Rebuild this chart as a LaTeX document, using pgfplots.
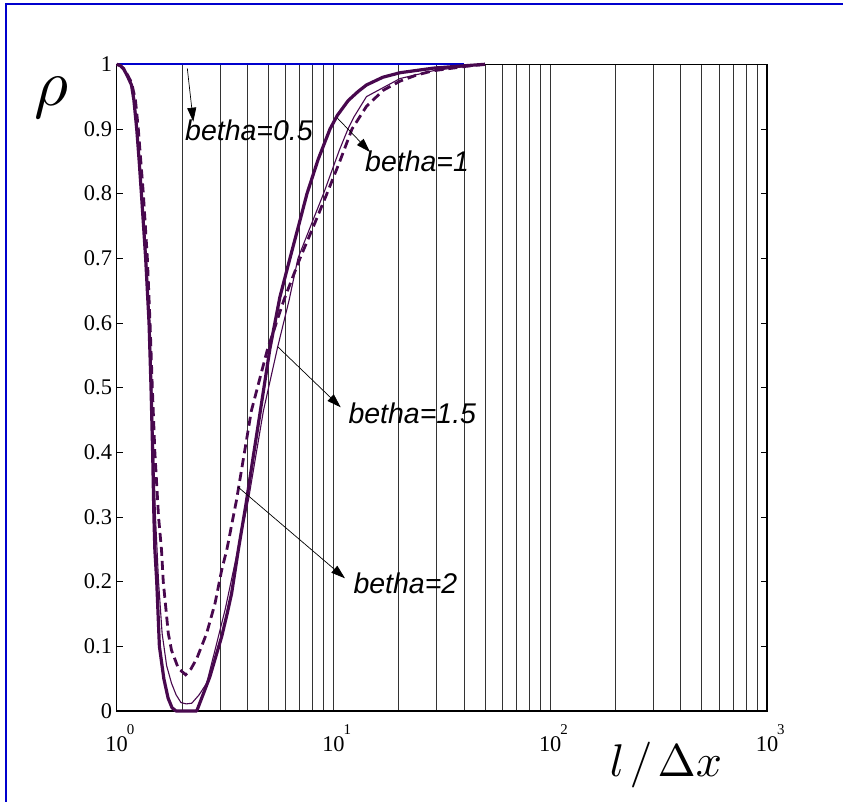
\documentclass[border=0pt]{standalone}
\usepackage{fontspec}
\setmainfont{Liberation Serif}
\setsansfont{Liberation Sans}
\newfontfamily\serifface{Liberation Serif}
\usepackage{pgfplots}
\pgfplotsset{compat=1.18}
\usetikzlibrary{arrows.meta}

\definecolor{curve}{RGB}{72,8,78}
\definecolor{frameblue}{RGB}{0,0,205}
% decade label in the 10^n style with a small raised exponent
\newcommand{\dec}[1]{10\rlap{\kern-1bp\raisebox{17bp}{\fontsize{15}{15}\selectfont #1}}}

\begin{document}
\begin{tikzpicture}
\useasboundingbox (0,0) rectangle (843bp,802bp);
\draw[frameblue, line width=2bp] (6bp,0) -- (6bp,798bp) -- (843bp,798bp);
\begin{axis}[
  at={(116.7bp,91bp)}, anchor=south west,
  scale only axis, width=650.3bp, height=646.7bp,
  xmode=log, xmin=1, xmax=1000, ymin=0, ymax=1,
  xtick={1,10,100,1000},
  xticklabels={\dec{0},\dec{1},\dec{2},\dec{3}},
  minor xtick={2,3,4,5,6,7,8,9,20,30,40,50,60,70,80,90,200,300,400,500,600,700,800,900},
  ytick={0,0.1,0.2,0.3,0.4,0.5,0.6,0.7,0.8,0.9,1},
  xmajorgrids, xminorgrids,
  major grid style={black!80, line width=0.8bp},
  minor grid style={black!80, line width=0.8bp},
  xtick style={draw=none}, minor x tick style={draw=none},
  ytick style={black, line width=0.8bp},
  major tick length=6bp,
  tick align=inside,
  axis line style={black, line width=1.4bp},
  /pgf/number format/assume math mode=true,
  yticklabel style={font=\serifface\fontsize{22.5}{22.5}\selectfont, inner sep=0pt, xshift=-4.5bp},
  xticklabel style={font=\serifface\fontsize{22.5}{22.5}\selectfont, inner sep=0pt, anchor=north, yshift=-13bp},
  clip=false,
]
% betha = 0.5 stays at rho = 1
\addplot[frameblue, line width=1.8bp] coordinates {(1,1) (40,1)};

% betha = 1
\addplot[curve, line width=3.2bp, line join=round] coordinates {
(1,1) (1.04,0.998) (1.08,0.992) (1.12,0.982) (1.17,0.968) (1.2,0.945) (1.237,0.9)
(1.27,0.85) (1.30,0.8) (1.33,0.75) (1.36,0.7) (1.41,0.6) (1.44,0.5) (1.465,0.4)
(1.485,0.3) (1.50,0.249) (1.53,0.2) (1.574,0.1) (1.65,0.05) (1.726,0.02) (1.8,0.005)
(1.88,0) (2.34,0) (2.50,0.025) (2.69,0.053) (2.87,0.085) (3.05,0.115) (3.23,0.15)
(3.39,0.182) (3.64,0.249) (3.95,0.32) (4.25,0.39) (4.58,0.46) (5.09,0.56) (5.66,0.64)
(6.30,0.70) (6.9,0.75) (7.55,0.80) (8.5,0.853) (9.64,0.90) (10.42,0.921) (11.7,0.944)
(13,0.958) (14.2,0.968) (16.9,0.98) (20.3,0.987) (28.8,0.994) (41.2,0.998) (50,1)};

% betha = 1.5
\addplot[curve, line width=1.1bp, line join=round] coordinates {
(1,1) (1.04,0.998) (1.08,0.992) (1.12,0.983) (1.17,0.97) (1.21,0.945) (1.245,0.9)
(1.31,0.8) (1.37,0.7) (1.42,0.6) (1.45,0.5) (1.48,0.4) (1.51,0.3) (1.56,0.2)
(1.62,0.12) (1.70,0.07) (1.79,0.043) (1.88,0.025) (1.98,0.013) (2.09,0.011)
(2.22,0.012) (2.40,0.025) (2.60,0.043) (2.84,0.094) (3.16,0.156) (3.51,0.228)
(4.05,0.326) (4.75,0.464) (5.53,0.563) (6.24,0.635) (6.86,0.70) (7.85,0.75) (9.0,0.80)
(10.64,0.867) (11.67,0.90) (12.4,0.918) (14.2,0.95) (20.3,0.978) (28.8,0.99) (41.2,0.997) (50,1)};

% betha = 2
\addplot[curve, line width=2.8bp, dash pattern=on 9bp off 5bp] coordinates {
(1,1) (1.04,0.998) (1.08,0.993) (1.12,0.984) (1.17,0.972) (1.22,0.945) (1.258,0.9)
(1.327,0.8) (1.385,0.7) (1.425,0.6) (1.46,0.5) (1.50,0.4) (1.56,0.3) (1.61,0.249)
(1.64,0.2) (1.73,0.12) (1.79,0.094) (1.925,0.066) (2.08,0.056) (2.2,0.065)
(2.34,0.081) (2.60,0.12) (2.84,0.166) (3.05,0.218) (3.22,0.249) (3.57,0.326)
(4.18,0.464) (4.95,0.558) (5.9,0.635) (7.01,0.70) (8.1,0.75) (9.33,0.80) (10.7,0.85)
(12.18,0.90) (14.2,0.935) (17,0.96) (20.3,0.974) (24,0.983) (28.8,0.99) (41.2,0.997) (50,1)};

% annotations
\tikzset{lab/.style={anchor=base west, inner sep=0pt, font=\fontsize{28.6}{28.6}\selectfont\sffamily\itshape},
         arr/.style={black, line width=0.7bp, -{Triangle[length=14bp,width=9bp]}}}
\draw[arr] (axis cs:2.117,0.9938) -- (axis cs:2.256,0.9112);
\node[lab] at (axis cs:2.066,0.8819) {betha=0.5};
\draw[arr] (axis cs:10.41,0.917) -- (axis cs:14.74,0.8644);
\node[lab] at (axis cs:13.98,0.834) {betha=1};
\draw[arr] (axis cs:5.53,0.5633) -- (axis cs:10.8,0.4696);
\node[lab] at (axis cs:11.71,0.4449) {betha=1.5};
\draw[arr] (axis cs:3.627,0.3464) -- (axis cs:11.30,0.2052);
\node[lab] at (axis cs:12.35,0.182) {betha=2};
\end{axis}
\node[inner sep=0pt] at (51.7bp,704.5bp) {\scalebox{6.6}{$\rho$}};
\node[anchor=base, inner sep=0pt] at (666bp,25bp) {\scalebox{4.6}{$l\mkern2mu/\mkern2mu\Delta x$}};
\end{tikzpicture}
\end{document}
